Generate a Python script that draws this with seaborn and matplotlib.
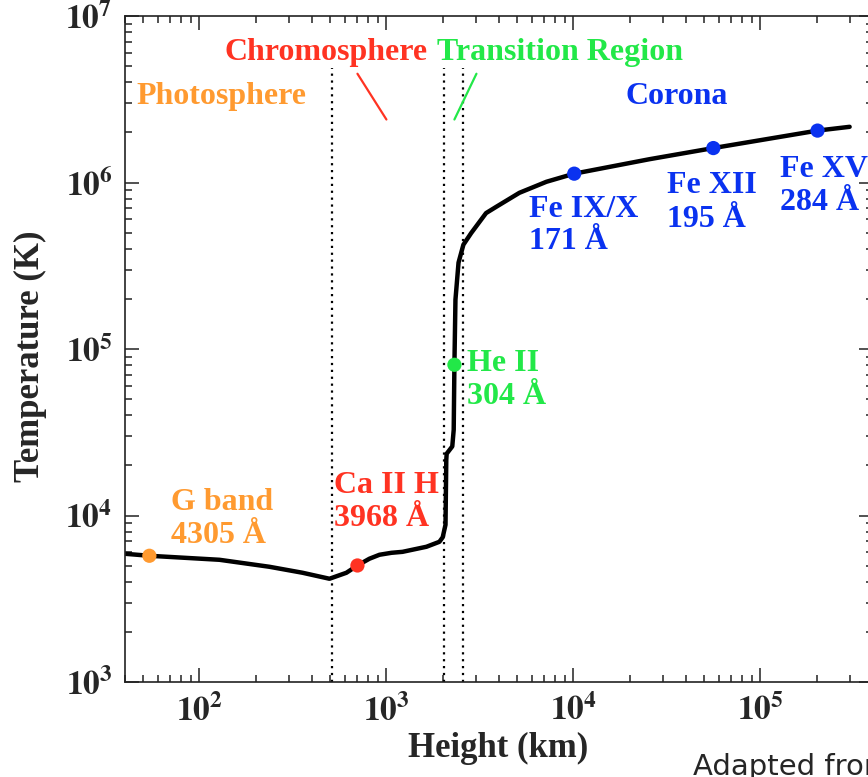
import matplotlib
matplotlib.use('Agg')
import matplotlib.pyplot as plt
import numpy as np
import pandas as pd
import seaborn as sns
from matplotlib.ticker import FuncFormatter, LogLocator

# Temperature profile of the solar atmosphere
height_km = [40, 54, 128, 237, 356, 496, 611, 700, 811, 918,
             1064, 1219, 1637, 1920, 2000, 2070, 2090, 2100, 2250, 2290,
             2310, 2340, 2430, 2580, 2840, 3410, 3870, 5140, 7170, 10100,
             25500, 56000, 202000, 300000]
temperature_k = [5890, 5730, 5420, 4920, 4530, 4170, 4530, 5010, 5500, 5810,
                 5970, 6050, 6490, 6950, 7400, 8800, 21600, 23500, 26000, 32700,
                 80400, 198000, 330000, 423000, 497000, 655000, 715000, 867000, 1010000, 1130000,
                 1380000, 1610000, 2050000, 2160000]

# Observed lines
line_height = [54, 700, 2310, 10100, 56000, 202000]
line_temp = [5730, 5010, 80400, 1130000, 1610000, 2050000]
line_names = ['G band', 'Ca II H', 'He II', 'Fe IX/X', 'Fe XII', 'Fe XV']
line_wave = ['4305 Å', '3968 Å', '304 Å', '171 Å', '195 Å', '284 Å']
line_colors = ['#FF9A30', '#FF3322', '#22E848', '#0A32F0', '#0A32F0', '#0A32F0']
# label anchor (left x, baseline of first line, baseline of second line)
label_x = [70.8, 527, 2710, 5820, 31800, 128000]
label_y1 = [10800, 13700, 74000, 622000, 865000, 1080000]
label_y2 = [6850, 8670, 46900, 400000, 540000, 684000]

# Layer boundaries
boundaries = [514, 2020, 2560]

# Region titles
regions = ['Photosphere', 'Chromosphere', 'Transition Region', 'Corona']
region_x = [46, 136, 1875, 19000]
region_y = [2.97e6, 5.46e6, 5.46e6, 2.97e6]
region_colors = ['#FF9A30', '#FF3322', '#22E848', '#0A32F0']

SERIF = ['Liberation Serif', 'DejaVu Serif']

sns.set_style('ticks')
plt.rcParams['font.family'] = SERIF
plt.rcParams['mathtext.fontset'] = 'stix'

fig = plt.figure(figsize=(8.68, 7.77), dpi=100)
ax = fig.add_axes([125/868, 1-682/777, 748/868, 666/777])
ax.set_xscale('log')
ax.set_yscale('log')
ax.set_xlim(40, 4e5)
ax.set_ylim(1e3, 1e7)

for b in boundaries:
    ax.plot([b, b], [1e3, 4.9e6], color='black', lw=1.6, linestyle=(0, (1, 2.1)))

df = pd.DataFrame({'h': height_km, 'T': temperature_k})
sns.lineplot(data=df, x='h', y='T', color='black', lw=3.2, sort=False, ax=ax)

ax.plot([700, 1000], [4.5e6, 2.39e6], color=region_colors[1], lw=1.6)
ax.plot([3030, 2310], [4.5e6, 2.39e6], color=region_colors[2], lw=1.6)

for i in range(len(line_names)):
    ax.scatter(line_height[i], line_temp[i], s=105, color=line_colors[i],
               edgecolor='none', zorder=5)
    ax.text(label_x[i], label_y1[i], line_names[i], color=line_colors[i],
            fontsize=23, fontweight='bold', family=SERIF, ha='left', va='baseline')
    ax.text(label_x[i], label_y2[i], line_wave[i], color=line_colors[i],
            fontsize=23, fontweight='bold', family=SERIF, ha='left', va='baseline')

for name, x, y, c in zip(regions, region_x, region_y, region_colors):
    ax.text(x, y, name, color=c, fontsize=23, fontweight='bold', family=SERIF,
            ha='left', va='baseline')

fmt = FuncFormatter(lambda v, p: r'$\mathbf{10^{%d}}$' % round(np.log10(v)))
ax.xaxis.set_major_formatter(fmt)
ax.yaxis.set_major_formatter(fmt)
ax.xaxis.set_major_locator(LogLocator(base=10))
ax.yaxis.set_major_locator(LogLocator(base=10))
ax.xaxis.set_minor_formatter(FuncFormatter(lambda v, p: ''))
ax.yaxis.set_minor_formatter(FuncFormatter(lambda v, p: ''))
ax.tick_params(which='both', direction='in', top=True, right=True,
               color='#222222', width=1.1, labelsize=24)
ax.tick_params(which='major', length=10)
ax.tick_params(which='minor', length=5)
ax.tick_params(axis='x', pad=9)
ax.tick_params(axis='y', pad=9)
for s in ax.spines.values():
    s.set_linewidth(1.2)
    s.set_color('#222222')
ax.set_xlabel('')
ax.set_ylabel('')

fig.text(498/868, 1-757/777, 'Height (km)', fontsize=25, fontweight='bold',
         family=SERIF, ha='center', va='baseline')
fig.text(30/868, 1-356/777, 'Temperature (K)', fontsize=25, fontweight='bold',
         family=SERIF, ha='center', va='center', rotation=90)
# credit line, cut by the right edge as in the original
fig.text(693/868, 1-775/777, 'Adapted from', fontsize=21, family='DejaVu Sans',
         ha='left', va='baseline')

fig.savefig('out.png', dpi=100)
